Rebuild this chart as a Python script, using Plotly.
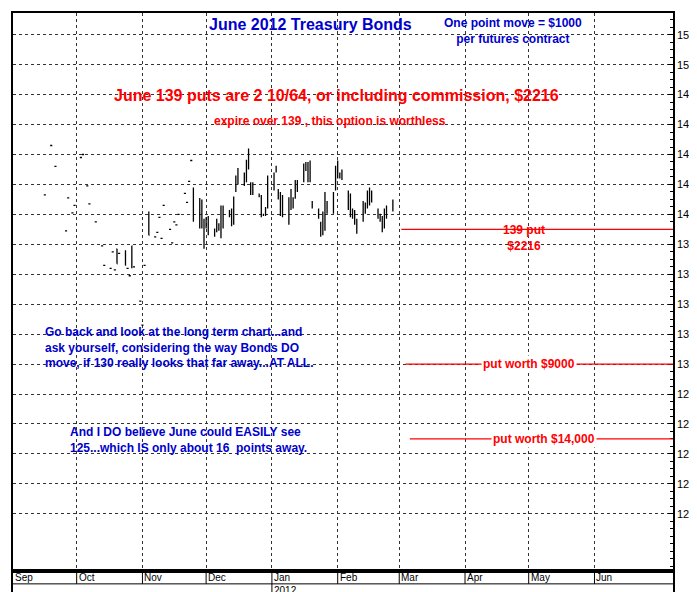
import plotly.graph_objects as go
from plotly.subplots import make_subplots
import pandas as pd

# early sparse ticks (date, price)
tick_dates = ["2011-09-16","2011-09-19","2011-09-21","2011-09-26","2011-09-27","2011-09-29","2011-09-30",
              "2011-10-03","2011-10-04","2011-10-06","2011-10-07","2011-10-10","2011-10-13","2011-10-14",
              "2011-10-17","2011-10-18","2011-10-19","2011-10-21","2011-10-25","2011-10-26","2011-10-28",
              "2011-10-31","2011-11-01","2011-11-02",
              "2011-11-07","2011-11-08","2011-11-09","2011-11-10","2011-11-11","2011-11-14","2011-11-15",
              "2011-11-16","2011-11-17","2011-11-18","2011-11-21","2011-11-22","2011-11-23","2011-11-24"]
tick_prices = [141.3,144.6,143.2,138.9,141.1,140.1,140.6,
               143.8,144.0,141.9,140.7,139.5,137.9,136.6,
               136.4,137.5,136.3,137.4,136.4,135.9,136.5,
               134.2,132.6,136.6,
               138.5,138.8,139.8,138.4,140.6,139.0,138.1,
               139.5,139.3,140.0,141.4,140.8,142.2,143.6]
ebar_dates = ["2011-10-20","2011-10-24","2011-10-27","2011-11-04"]
ebar_high = [137.7,137.6,137.9,140.2]
ebar_low = [136.7,136.6,136.4,138.6]
ebar_open = [137.7,137.5,136.5,140.0]
ebar_close = [136.7,136.6,137.9,138.6]

bar_start = "2011-11-25"
highs = [141.8,141.1,141.0,139.7,139.8,139.9,139.05,139.7,139.4,140.6,140.6,140.3,140.4,141.2,142.6,143.1,
         142.8,143.65,144.4,142.15,142.15,141.4,141.3,140.05,140.5,142.6,142.8,143.25,141.7,141.5,141.3,
         141.15,141.7,141.15,142.3,142.3,143.4,143.5,143.5,143.6,140.9,140.4,139.5,140.2,141.5,140.9,141.5,
         143.25,143.6,142.8,143.0,141.6,141.4,140.4,140.3,139.7,140.9,140.8,141.6,141.8,141.6,140.4,140.05,
         139.9,140.4,140.6,141.0]
lows = [139.5,139.05,139.05,137.7,139.05,138.6,138.5,138.8,138.9,138.4,139.05,139.8,139.2,139.3,141.5,142.0,
        141.9,142.15,143.0,141.3,141.3,141.15,139.8,139.9,139.9,140.4,141.6,142.8,141.0,139.9,139.8,
        139.3,140.3,140.4,141.05,141.5,142.15,142.9,142.15,142.15,140.4,139.7,138.5,138.6,138.9,140.05,140.05,
        141.6,142.4,142.4,142.3,140.3,139.8,139.7,139.3,138.7,139.5,140.05,140.4,140.6,140.8,139.7,139.5,
        138.8,139.05,139.7,140.2]
opens = [141.6,139.6,140.8,139.5,139.2,139.8,138.9,138.9,139.3,138.6,140.4,140.2,139.4,139.5,141.6,142.2,
         142.7,142.3,143.2,142.0,141.4,141.3,141.2,140.0,140.0,140.6,141.8,142.9,141.6,141.3,140.0,
         141.0,140.5,141.0,141.2,141.6,142.3,143.3,143.4,142.3,140.8,140.2,139.4,138.8,139.0,140.8,140.2,
         141.8,142.6,142.7,142.5,141.5,141.2,140.3,140.1,139.5,139.7,140.6,140.6,140.8,141.5,140.3,139.9,
         139.8,139.2,139.9,140.4]
closes = [139.7,140.9,139.2,139.0,139.6,139.0,139.0,139.5,139.0,140.4,139.2,140.0,140.2,141.1,142.4,142.9,
          142.0,143.5,143.2,141.4,142.0,141.2,139.9,140.0,140.4,142.4,142.7,143.1,141.1,140.0,141.0,
          139.5,141.5,140.6,142.1,142.1,143.3,143.0,142.3,143.4,140.5,139.8,138.7,140.0,141.3,140.2,141.3,
          143.1,142.5,142.6,142.4,140.4,139.9,139.8,139.4,139.6,140.8,140.1,141.4,140.7,141.0,139.8,139.6,
          139.0,140.2,140.5,140.9]

ytick_vals = list(range(120, 154, 2))
months = ["Sep","Oct","Nov","Dec","Jan","Feb","Mar","Apr","May","Jun"]
month_dates = ["2011-09-01","2011-10-01","2011-11-01","2011-12-01","2012-01-01","2012-02-01",
               "2012-03-01","2012-04-01","2012-05-01","2012-06-01"]

bar_dates = pd.bdate_range(bar_start, periods=len(highs))

fig = make_subplots(rows=2, cols=1, shared_xaxes=True, vertical_spacing=0, row_heights=[0.955, 0.045])
blk = dict(increasing=dict(line=dict(color="black", width=1.3)),
           decreasing=dict(line=dict(color="black", width=1.3)), showlegend=False, hoverinfo="skip")
fig.add_trace(go.Ohlc(x=tick_dates, open=tick_prices, high=tick_prices, low=tick_prices, close=tick_prices,
                      tickwidth=0.5, **blk), row=1, col=1)
fig.add_trace(go.Ohlc(x=ebar_dates, open=ebar_open, high=ebar_high, low=ebar_low, close=ebar_close,
                      tickwidth=0.3, **blk), row=1, col=1)
fig.add_trace(go.Ohlc(x=bar_dates, open=opens, high=highs, low=lows, close=closes, tickwidth=0.3, **blk),
              row=1, col=1)

red = "#ff0000"; blue = "#0000cc"
put_levels = [139, 130, 125]
put_starts = ["2012-03-02", "2012-03-04", "2012-03-06"]
put_labels = ["139 put<br>$2216", "put worth $9000", "put worth $14,000"]
put_label_x = ["2012-04-29", "2012-05-01", "2012-05-08"]
for lv, st in zip(put_levels, put_starts):
    fig.add_shape(type="line", x0=st, x1="2012-07-08", y0=lv, y1=lv, line=dict(color=red, width=1.2), row=1, col=1)
for md in month_dates[1:]:
    fig.add_shape(type="line", x0=md, x1=md, y0=1, y1=2, line=dict(color="black", width=1), row=2, col=1)
fig.add_shape(type="line", x0="2012-01-01", x1="2012-01-01", y0=0, y1=1, line=dict(color="black", width=1), row=2, col=1)
fig.add_shape(type="line", x0="2011-09-01", x1="2012-07-08", y0=1, y1=1, line=dict(color="black", width=1), row=2, col=1)

bf = dict(family="Liberation Sans", weight="bold")
for lv, lab, lx in zip(put_levels, put_labels, put_label_x):
    fig.add_annotation(x=lx, y=lv, text=lab, showarrow=False, yanchor="top" if lv == 139 else "middle",
                       yshift=8 if lv == 139 else 0, bgcolor=None if lv == 139 else "white",
                       font=dict(color=red, size=12, **bf), row=1, col=1)
for m, md in zip(months, month_dates):
    fig.add_annotation(x=md, y=1.5, text=m, showarrow=False, xanchor="left", xshift=0,
                       font=dict(size=10, family="Liberation Sans", color="black"), row=2, col=1)
fig.add_annotation(x="2012-01-01", y=0.5, text="2012", showarrow=False, xanchor="left",
                   font=dict(size=10, family="Liberation Sans", color="black"), row=2, col=1)
for a in [
    dict(x=0.45, y=0.998, text="June 2012 Treasury Bonds", yanchor="top", font=dict(color=blue, size=16, **bf)),
    dict(x=0.865, y=0.998, text="One point move = $1000<br>per futures contract", yanchor="top",
         font=dict(color=blue, size=12, **bf)),
    dict(x=0.49, y=0.877, text="June 139 puts are 2 10/64, or including commission, $2216",
         font=dict(color=red, size=16, **bf)),
    dict(x=0.48, y=0.83, text="expire over 139 , this option is worthless", font=dict(color=red, size=12, **bf)),
]:
    fig.add_annotation(xref="paper", yref="paper", showarrow=False, **a)
fig.add_annotation(x="2011-09-15", y=131.1, text="Go back and look at the long term chart...and<br>ask yourself, considering the way Bonds DO<br>move, if 130 really looks that far away...AT ALL.",
                   showarrow=False, xanchor="left", align="left", font=dict(color=blue, size=12, **bf), row=1, col=1)
fig.add_annotation(x="2011-09-27", y=124.9, text="And I DO believe June could EASILY see<br>125...which IS only about 16  points away.",
                   showarrow=False, xanchor="left", align="left", font=dict(color=blue, size=12, **bf), row=1, col=1)

fig.update_layout(width=697, height=592, margin=dict(l=3, r=32, t=3, b=3),
                  paper_bgcolor="white", plot_bgcolor="white", showlegend=False)
fig.update_xaxes(type="date", range=["2011-09-01", "2012-07-08"], rangeslider=dict(visible=False),
                 tickvals=month_dates, showticklabels=False, showgrid=True, gridcolor="#333",
                 griddash="dot", gridwidth=1, zeroline=False, ticks="",
                 showline=True, mirror=True, linecolor="black", linewidth=1.5)
fig.update_xaxes(showgrid=False, row=2, col=1)
fig.update_yaxes(range=[116.2, 153.45], side="right", tickvals=ytick_vals, showgrid=True, gridcolor="#333",
                 griddash="dot", gridwidth=1, zeroline=False, ticks="inside", ticklen=5, tickcolor="black",
                 tickfont=dict(size=11, family="Liberation Sans", color="black"),
                 minor=dict(dtick=0.5, ticks="inside", ticklen=3, tickcolor="black"),
                 showline=True, mirror=True, linecolor="black", linewidth=1.5, row=1, col=1)
fig.update_yaxes(range=[0, 2], showticklabels=False, showgrid=False, zeroline=False, ticks="",
                 showline=True, mirror=True, linecolor="black", linewidth=1.5, row=2, col=1)
fig.write_html("out.html")
